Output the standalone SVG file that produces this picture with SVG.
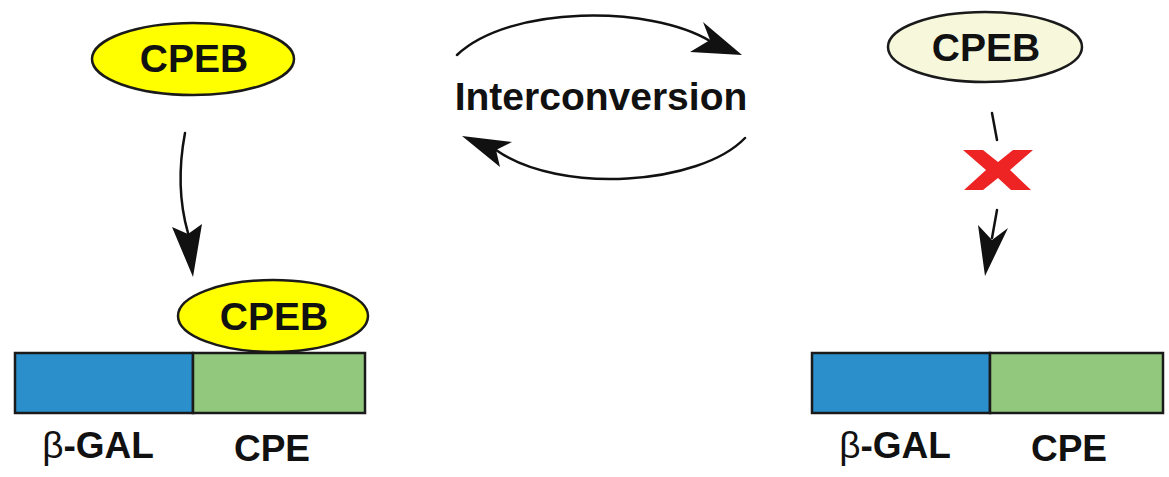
<svg xmlns="http://www.w3.org/2000/svg" width="1169" height="477" viewBox="0 0 1169 477">
<style>
.bg{fill:#ffffff}
.ell{fill:#ffff00;stroke:#1a1a1a;stroke-width:2.5}
.ell2{fill:#f7f7dc;stroke:#1a1a1a;stroke-width:2.5}
.lbl{font-family:"Liberation Sans",Arial,sans-serif;font-weight:bold;fill:#111111;text-anchor:middle}
.blue{fill:#2b8fcb;stroke:#1a1a1a;stroke-width:2.5}
.green{fill:#92c77e;stroke:#1a1a1a;stroke-width:2.5}
.line{fill:none;stroke:#111111;stroke-width:2.5;stroke-linecap:round}
.head{fill:#111111}
</style>
<rect class="bg" x="0" y="0" width="1169" height="477"/>
<g id="cpeb-top-left">
<ellipse class="ell" cx="193" cy="59" rx="101" ry="36"/>
<text class="lbl" x="194" y="72" font-size="39">CPEB</text>
</g>
<g id="cpeb-bound">
<ellipse class="ell" cx="273" cy="316" rx="95" ry="36"/>
<text class="lbl" x="274" y="330" font-size="39">CPEB</text>
</g>
<g id="construct-left">
<rect class="blue" x="15" y="353" width="178" height="60"/>
<rect class="green" x="193" y="353" width="172" height="60"/>
<text class="lbl" x="98" y="458" font-size="37"><tspan font-weight="normal">β</tspan>-GAL</text>
<text class="lbl" x="272" y="461" font-size="37">CPE</text>
</g>
<g id="interconversion">
<text class="lbl" x="601" y="110" font-size="39">Interconversion</text>
</g>
<g id="cpeb-top-right">
<ellipse class="ell2" cx="985" cy="47" rx="97" ry="35"/>
<text class="lbl" x="986" y="61" font-size="39">CPEB</text>
</g>
<g id="construct-right">
<rect class="blue" x="812" y="353" width="178" height="60"/>
<rect class="green" x="990" y="353" width="173" height="60"/>
<text class="lbl" x="895" y="458" font-size="37"><tspan font-weight="normal">β</tspan>-GAL</text>
<text class="lbl" x="1069" y="461" font-size="37">CPE</text>
</g>
<g id="block-x">
<polygon fill="#ee2424" points="963,150 983,150 998,162 1013,150 1033,150 1010,170 1031,190 1011,190 998,178 983,190 964,190 986,170"/>
</g>
<g id="connectors">
<path class="line" d="M185,133 C178,170 180,205 188,233"/>
<polygon class="head" points="193,277 172,227 188,234 202,224"/>
<path class="line" d="M457,55 C510,5 650,5 710,41"/>
<polygon class="head" points="742,55 703,22 710,40 690,52"/>
<path class="line" d="M745,138 C700,185 560,195 496,150"/>
<polygon class="head" points="462,136 512,142 496,150 500,167"/>
<path class="line" d="M992,113 L997,140"/>
<path class="line" d="M997,210 L992,238"/>
<polygon class="head" points="985,276 978,225 992,240 1008,228"/>
</g>
</svg>
